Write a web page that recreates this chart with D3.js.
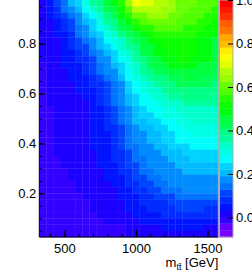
<!DOCTYPE html>
<html lang="en">
<head>
<meta charset="UTF-8"/>
<script src="https://cdn.jsdelivr.net/npm/d3@7"></script>
<style>
  body {margin: 0; background: #fff;}
  svg {display: block;}
  text {font-family: "Liberation Sans", Arial, sans-serif; fill: #000;}
</style>
</head>
<body>
<svg id="chart" width="252" height="273"></svg>
<script>
// bin centres along m_tt [GeV]
const massBins = [350,400,450,500,550,600,650,700,750,800,850,900,950,1000,1050,1100,1150,1200,1250,1300,1350,1400,1450,1500,1550];
// lower edges of the y bins
const yBins = [0.025,0.05,0.075,0.1,0.125,0.15,0.175,0.2,0.225,0.25,0.275,0.3,0.325,0.35,0.375,0.4,0.425,0.45,0.475,0.5,
               0.525,0.55,0.575,0.6,0.625,0.65,0.675,0.7,0.725,0.75,0.775,0.8,0.825,0.85,0.875,0.9,0.925,0.95];
// cell values, top row first (y = 0.95) down to bottom row (y = 0.025)
const zRows = [
  [.03,.06,.10,.15,.20,.25,.30,.35,.40,.45,.50,.56,.63,.73,.71,.69,.68,.66,.64,.62,.61,.60,.59,.58,.57],
  [.03,.05,.08,.13,.17,.22,.27,.32,.37,.42,.47,.52,.59,.67,.67,.66,.66,.64,.63,.61,.60,.59,.58,.57,.56],
  [.02,.04,.07,.10,.15,.19,.23,.28,.33,.38,.43,.49,.54,.61,.62,.63,.63,.63,.61,.60,.59,.58,.57,.56,.54],
  [.02,.03,.05,.08,.12,.16,.20,.25,.30,.35,.40,.45,.50,.55,.58,.60,.61,.61,.60,.59,.58,.57,.56,.55,.53],
  [.02,.03,.04,.07,.11,.14,.18,.23,.27,.32,.37,.41,.46,.51,.54,.56,.58,.58,.58,.57,.56,.55,.54,.53,.51],
  [.02,.02,.04,.06,.09,.13,.16,.20,.25,.29,.33,.38,.42,.46,.50,.53,.55,.56,.55,.55,.55,.54,.52,.51,.49],
  [.02,.02,.03,.05,.08,.11,.14,.18,.22,.26,.30,.34,.38,.42,.46,.49,.52,.53,.53,.53,.53,.52,.50,.49,.47],
  [.01,.02,.03,.05,.07,.10,.12,.16,.20,.24,.28,.32,.36,.40,.44,.47,.50,.51,.52,.52,.52,.51,.50,.49,.47],
  [.01,.02,.03,.04,.06,.08,.11,.14,.18,.21,.25,.29,.33,.37,.41,.45,.48,.50,.51,.51,.51,.51,.49,.48,.46],
  [.01,.02,.03,.04,.05,.07,.09,.12,.16,.19,.23,.27,.31,.35,.39,.43,.46,.48,.50,.51,.51,.50,.49,.48,.46],
  [.00,.02,.03,.04,.05,.06,.08,.11,.14,.17,.21,.25,.29,.33,.37,.41,.44,.46,.48,.49,.49,.48,.47,.46,.45],
  [-.01,.02,.03,.03,.04,.06,.07,.10,.13,.16,.19,.23,.28,.32,.35,.39,.41,.43,.45,.46,.47,.46,.45,.45,.43],
  [-.01,.01,.02,.03,.04,.05,.06,.08,.11,.14,.17,.21,.26,.30,.33,.36,.38,.40,.42,.43,.44,.44,.43,.43,.42],
  [-.01,.01,.02,.02,.03,.04,.05,.07,.09,.12,.15,.19,.24,.28,.31,.34,.36,.38,.40,.41,.42,.42,.41,.41,.40],
  [-.01,.01,.02,.02,.03,.04,.05,.06,.08,.11,.14,.18,.23,.27,.29,.32,.34,.36,.38,.39,.40,.40,.39,.39,.39],
  [-.02,.01,.02,.02,.03,.03,.04,.06,.08,.11,.14,.17,.22,.25,.28,.30,.32,.34,.36,.37,.38,.38,.38,.38,.37],
  [-.02,.01,.01,.01,.02,.03,.03,.05,.07,.10,.13,.16,.20,.24,.26,.28,.30,.32,.33,.34,.35,.36,.36,.36,.36],
  [-.02,.00,.01,.01,.02,.02,.03,.04,.06,.09,.12,.15,.19,.22,.24,.26,.28,.30,.31,.32,.33,.34,.34,.34,.34],
  [-.02,.00,.01,.01,.02,.02,.03,.04,.06,.08,.11,.14,.18,.21,.23,.25,.27,.29,.30,.31,.32,.33,.33,.33,.33],
  [-.02,-.01,.01,.01,.02,.02,.03,.04,.06,.08,.10,.13,.17,.20,.22,.24,.25,.27,.28,.30,.31,.32,.32,.32,.32],
  [-.02,-.01,.01,.01,.02,.02,.03,.04,.05,.07,.09,.12,.15,.18,.20,.22,.24,.25,.27,.28,.29,.30,.30,.31,.31],
  [-.02,-.01,.01,.01,.02,.02,.03,.04,.05,.06,.08,.11,.14,.17,.19,.21,.22,.24,.25,.27,.28,.29,.29,.30,.30],
  [-.02,-.01,.01,.01,.02,.02,.03,.04,.05,.06,.08,.10,.13,.16,.18,.20,.21,.23,.24,.26,.27,.27,.28,.28,.28],
  [-.02,-.02,.01,.01,.02,.02,.03,.04,.05,.06,.08,.10,.13,.15,.17,.19,.20,.22,.23,.24,.25,.26,.26,.27,.27],
  [-.02,-.02,.01,.01,.01,.01,.02,.03,.04,.05,.07,.09,.12,.14,.16,.18,.19,.20,.21,.22,.23,.24,.24,.25,.25],
  [-.02,-.02,-.01,.01,.01,.01,.02,.03,.04,.05,.07,.09,.11,.13,.15,.17,.18,.19,.20,.21,.22,.23,.23,.23,.23],
  [-.02,-.02,-.02,.01,.01,.01,.02,.03,.04,.05,.06,.08,.10,.12,.14,.16,.17,.18,.19,.20,.21,.22,.22,.22,.22],
  [-.02,-.02,-.02,.00,.01,.01,.02,.02,.03,.04,.06,.07,.09,.11,.13,.15,.16,.17,.18,.19,.20,.21,.21,.21,.21],
  [-.02,-.02,-.02,-.01,.01,.01,.01,.02,.03,.04,.05,.06,.08,.10,.11,.13,.15,.16,.17,.18,.19,.19,.19,.19,.19],
  [-.02,-.02,-.02,-.02,-.01,.01,.01,.01,.02,.03,.04,.05,.07,.08,.10,.12,.14,.15,.16,.17,.18,.18,.18,.18,.18],
  [-.02,-.02,-.02,-.02,-.02,.01,.01,.01,.02,.02,.03,.04,.06,.07,.09,.10,.12,.13,.14,.15,.16,.16,.16,.16,.16],
  [-.02,-.02,-.02,-.02,-.02,-.01,.01,.01,.01,.02,.03,.04,.05,.06,.08,.09,.10,.11,.12,.13,.14,.14,.14,.13,.13],
  [-.02,-.02,-.02,-.02,-.02,-.02,-.01,.01,.01,.01,.02,.03,.04,.05,.07,.08,.09,.09,.10,.11,.12,.12,.12,.11,.11],
  [-.02,-.02,-.02,-.02,-.02,-.02,-.01,.01,.01,.01,.02,.03,.04,.05,.06,.07,.08,.08,.09,.10,.10,.10,.10,.09,.09],
  [-.02,-.02,-.02,-.02,-.02,-.02,-.02,-.01,.01,.01,.02,.03,.03,.04,.05,.06,.06,.07,.07,.08,.08,.08,.08,.07,.07],
  [-.02,-.02,-.02,-.02,-.02,-.02,-.02,-.02,-.01,.01,.01,.02,.02,.03,.04,.04,.05,.05,.05,.06,.06,.06,.05,.05,.05],
  [-.02,-.02,-.02,-.02,-.02,-.02,-.02,-.02,-.02,-.01,-.01,.00,.02,.02,.03,.03,.03,.04,.04,.04,.04,.04,.04,.03,.03],
  [-.02,-.02,-.02,-.02,-.02,-.02,-.02,-.02,-.02,-.02,-.01,-.01,.01,.01,.02,.02,.02,.02,.02,.03,.03,.02,.02,.01,.01]
];
const xTicks = [500, 1000, 1500];
const yTicks = [0.2, 0.4, 0.6, 0.8];
const zTicks = [0, 0.2, 0.4, 0.6, 0.8, 1.0];

const svg = d3.select('#chart');
const plot = {left: 39.3, right: 218.3, top: 0, bottom: 237};
const massStep = 50, yStep = 0.025;
const zMin = -0.09, zMax = 1.0, nLevels = 35;

const x = d3.scaleLinear().domain([325, 1575]).range([plot.left, plot.right]);
const y = d3.scaleLinear().domain([0.025, 0.975]).range([plot.bottom, plot.top]);

// ROOT style rainbow: 50 palette colours shared among the contour levels
const levelColors = d3.range(nLevels).map(i => {
  const j = Math.floor((i + 0.99) * 50 / nLevels);
  return d3.hsl(280 - (j + 1) * 5.6, 1, 0.5).formatHex();
});
const color = d3.scaleQuantize().domain([zMin, zMax]).range(levelColors);

// cells
const cells = [];
zRows.forEach((row, ri) => {
  const yLow = yBins[yBins.length - 1 - ri];
  row.forEach((z, ci) => cells.push({m: massBins[ci], yl: yLow, z: z}));
});
svg.append('g').selectAll('rect')
  .data(cells)
  .enter().append('rect')
  .attr('x', d => x(d.m - massStep / 2))
  .attr('y', d => y(d.yl + yStep))
  .attr('width', d => x(d.m + massStep / 2) - x(d.m - massStep / 2) + 0.3)
  .attr('height', d => y(d.yl) - y(d.yl + yStep) + 0.3)
  .attr('fill', d => color(d.z));

// axes (ticks pointing inward)
svg.append('g')
  .attr('transform', 'translate(' + plot.left + ',0)')
  .call(d3.axisLeft(y).tickValues(yTicks).tickSize(-6).tickPadding(3).tickFormat(d3.format('.1f')));
svg.append('g')
  .attr('transform', 'translate(' + plot.left + ',0)')
  .call(d3.axisLeft(y).tickValues(d3.range(0.05, 0.97, 0.05)).tickSize(-3).tickFormat(''));
svg.append('g')
  .attr('transform', 'translate(0,' + plot.bottom + ')')
  .call(d3.axisBottom(x).tickValues(xTicks).tickSize(-7).tickPadding(7).tickFormat(d3.format('d')));
svg.append('g')
  .attr('transform', 'translate(0,' + plot.bottom + ')')
  .call(d3.axisBottom(x).tickValues(d3.range(400, 1576, 100)).tickSize(-3.5).tickFormat(''));
svg.selectAll('.domain').remove();
svg.selectAll('.tick line').attr('stroke', '#000');
svg.selectAll('.tick text').style('font-size', '13px').attr('fill', '#000');

// frame
svg.append('path')
  .attr('d', 'M' + plot.left + ',0V' + plot.bottom + 'H' + plot.right)
  .attr('fill', 'none').attr('stroke', '#000').attr('stroke-width', 1);
svg.append('line')
  .attr('x1', plot.right).attr('x2', plot.right).attr('y1', 0).attr('y2', plot.bottom)
  .attr('stroke', '#aaa').attr('stroke-width', 1);

// x title
const xt = svg.append('text')
  .attr('x', plot.right).attr('y', 267)
  .attr('text-anchor', 'end')
  .style('font-size', '13px');
xt.append('tspan').text('m');
xt.append('tspan').attr('dy', 3).style('font-size', '9px').text('t\u0074\u0304');
xt.append('tspan').attr('dy', -3).text(' [GeV]');

// colour bar
const bar = {left: 219.5, right: 233};
const zScale = d3.scaleLinear().domain([zMin, zMax]).range([plot.bottom, 0]);
const levelStep = (zMax - zMin) / nLevels;
svg.append('g').selectAll('rect')
  .data(levelColors)
  .enter().append('rect')
  .attr('x', bar.left)
  .attr('width', bar.right - bar.left)
  .attr('y', (c, i) => zScale(zMin + (i + 1) * levelStep))
  .attr('height', (c, i) => zScale(zMin + i * levelStep) - zScale(zMin + (i + 1) * levelStep) + 0.3)
  .attr('fill', c => c);
svg.append('rect')
  .attr('x', bar.left).attr('y', 0)
  .attr('width', bar.right - bar.left).attr('height', plot.bottom)
  .attr('fill', 'none').attr('stroke', '#aaa').attr('stroke-width', 1);
const zAxis = svg.append('g')
  .attr('transform', 'translate(' + bar.right + ',0)')
  .call(d3.axisRight(zScale).tickValues(zTicks).tickSize(-5).tickPadding(3).tickFormat(d3.format('.1f')));
zAxis.select('.domain').remove();
zAxis.selectAll('.tick line').attr('stroke', '#000');
zAxis.selectAll('.tick text').style('font-size', '13px').attr('fill', '#000');
</script>
</body>
</html>
